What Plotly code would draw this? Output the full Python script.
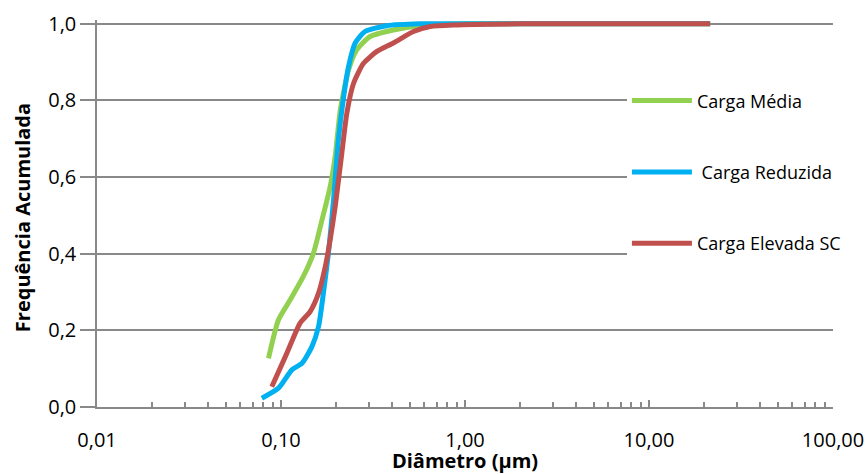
import plotly.graph_objects as go

# ---- data ----
media_x = [0.0855, 0.0968, 0.112, 0.132, 0.150, 0.167, 0.185, 0.197, 0.210, 0.233,
           0.258, 0.305, 0.408, 0.570, 1.0, 2.0, 5.0, 10.0, 21.5]
media_y = [0.127, 0.227, 0.279, 0.340, 0.401, 0.488, 0.575, 0.654, 0.775, 0.880,
           0.932, 0.967, 0.984, 0.995, 1.0, 1.0, 1.0, 1.0, 1.0]

reduzida_x = [0.0787, 0.0968, 0.1146, 0.130, 0.147, 0.160, 0.170, 0.181, 0.193, 0.205,
              0.218, 0.233, 0.253, 0.286, 0.376, 0.570, 1.0, 2.0, 5.0, 10.0, 21.5]
reduzida_y = [0.023, 0.049, 0.097, 0.114, 0.157, 0.210, 0.297, 0.401, 0.540, 0.697,
              0.803, 0.889, 0.950, 0.980, 0.995, 1.0, 1.0, 1.0, 1.0, 1.0, 1.0]

elevada_x = [0.0891, 0.1075, 0.127, 0.144, 0.160, 0.174, 0.185, 0.197, 0.214, 0.228,
             0.248, 0.281, 0.332, 0.408, 0.525, 0.647, 0.866, 2.0, 5.0, 10.0, 21.5]
elevada_y = [0.053, 0.140, 0.219, 0.249, 0.297, 0.366, 0.436, 0.523, 0.662, 0.767,
             0.845, 0.897, 0.928, 0.950, 0.980, 0.993, 0.997, 1.0, 1.0, 1.0, 1.0]

series_names = ["Carga Média", " Carga Reduzida", "Carga Elevada SC"]
series_colors = ["#92D050", "#00B0F0", "#C0504D"]

x_tickvals = [0.01, 0.1, 1, 10, 100]
x_ticktext = ["0,01", "0,10", "1,00", "10,00", "100,00"]
y_tickvals = [0.0, 0.2, 0.4, 0.6, 0.8, 1.0]
y_ticktext = ["0,0", "0,2", "0,4", "0,6", "0,8", "1,0"]

x_title = "Diâmetro (µm)"
y_title = "Frequência Acumulada"

GRAY = "#898989"
FONT = "Open Sans"

fig = go.Figure()
for i, (xs, ys) in enumerate([(media_x, media_y), (reduzida_x, reduzida_y), (elevada_x, elevada_y)]):
    fig.add_trace(go.Scatter(
        x=xs, y=ys, mode="lines", name=series_names[i],
        line=dict(color=series_colors[i], width=5, shape="spline", smoothing=0.6),
        legendgroup=f"g{i}",
    ))

fig.update_layout(
    width=867, height=474,
    margin=dict(l=97, r=34, t=20, b=67),
    plot_bgcolor="white", paper_bgcolor="white",
    font=dict(family=FONT, size=20, color="#000000"),
    showlegend=True,
    legend=dict(
        x=0.720, xanchor="left", y=0.839, yanchor="top",
        bgcolor="white", borderwidth=0,
        font=dict(family=FONT, size=18, color="#000000"),
        tracegroupgap=45, entrywidth=200, entrywidthmode="pixels",
        itemwidth=60,
    ),
    annotations=[dict(
        text=f"<b>{y_title}</b>", textangle=-90,
        xref="paper", yref="paper", x=0, y=0.488,
        xanchor="center", yanchor="middle", xshift=-75,
        showarrow=False, font=dict(family=FONT, size=20, color="#000000"),
    )],
)

fig.update_xaxes(
    type="log", range=[-2, 2], automargin=False,
    tickmode="array", tickvals=x_tickvals, ticktext=x_ticktext,
    ticks="inside", ticklen=7, tickwidth=1.5, tickcolor=GRAY,
    showline=True, linecolor=GRAY, linewidth=1.5,
    showgrid=False, zeroline=False,
    ticklabelstandoff=14,
    minor=dict(ticks="inside", ticklen=5, tickwidth=1.5, tickcolor=GRAY, dtick="D1", showgrid=False),
    tickfont=dict(family=FONT, size=20),
    title=dict(text=f"<b>{x_title}</b>", font=dict(family=FONT, size=20), standoff=3),
)
fig.update_yaxes(
    range=[0, 1.01], automargin=False,
    tickmode="array", tickvals=y_tickvals, ticktext=y_ticktext,
    ticks="outside", ticklen=15, tickwidth=1.5, tickcolor=GRAY,
    showline=True, linecolor=GRAY, linewidth=1.5,
    showgrid=True, gridcolor=GRAY, gridwidth=1.5, zeroline=False,
    tickfont=dict(family=FONT, size=20),
)

fig.write_html("out.html", config={"displayModeBar": False},
               post_script="document.body.style.margin='0';")
